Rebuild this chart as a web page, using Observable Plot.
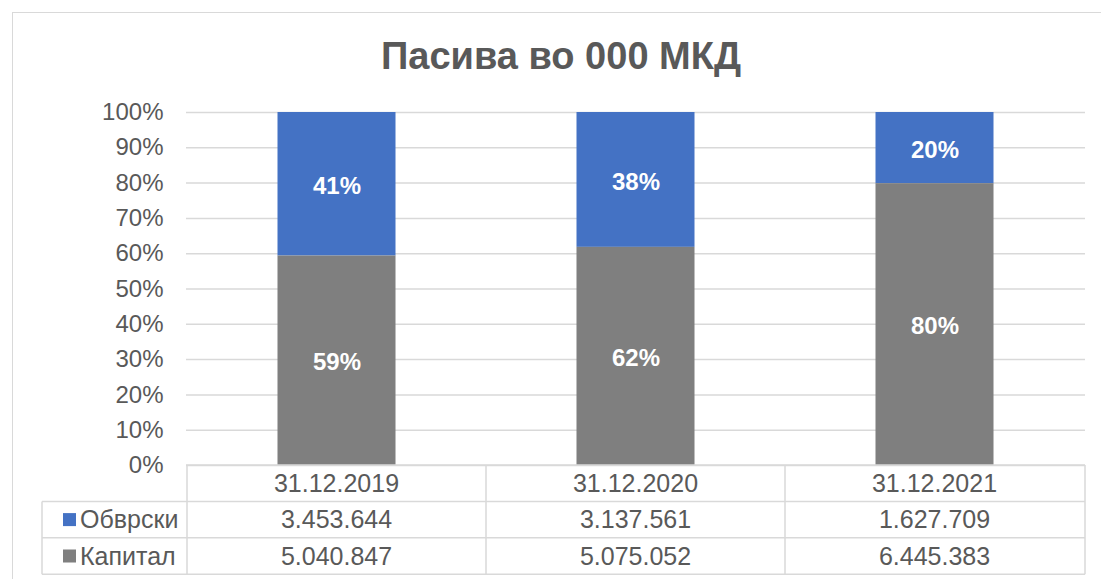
<!DOCTYPE html>
<html>
<head>
<meta charset="utf-8">
<script src="https://cdn.jsdelivr.net/npm/d3@7"></script>
<script src="https://cdn.jsdelivr.net/npm/@observablehq/plot@0.6"></script>
<style>
  html, body { margin: 0; padding: 0; background: #fff; }
  body { width: 1101px; height: 579px; overflow: hidden; position: relative; font-family: "Liberation Sans", Arial, sans-serif; }
  #frame { position: absolute; left: 12px; top: 12px; width: 1100px; height: 600px; border-left: 1px solid #d9d9d9; border-top: 1px solid #d9d9d9; box-sizing: border-box; }
  #title { position: absolute; left: 12px; width: 1098px; top: 37px; text-align: center; font: bold 38px/1 "Liberation Sans", Arial, sans-serif; color: #595959; }
  #chart { position: absolute; left: 0; top: 0; }
</style>
</head>
<body>
<div id="frame"></div>
<div id="title">Пасива во 000 МКД</div>
<div id="chart"></div>
<script>
// ---- data ----
const categories = ["31.12.2019", "31.12.2020", "31.12.2021"];
const seriesNames = ["Обврски", "Капитал"];
const obvrski = [3453644, 3137561, 1627709];
const kapital = [5040847, 5075052, 6445383];
const yTicks = [0, 0.1, 0.2, 0.3, 0.4, 0.5, 0.6, 0.7, 0.8, 0.9, 1];
const seriesColors = ["#4472C4", "#7F7F7F"];

const seriesValues = {"Обврски": obvrski, "Капитал": kapital};
const totals = categories.map((c, i) => obvrski[i] + kapital[i]);
const rows = [];
seriesNames.forEach(s => categories.forEach((c, i) => {
  rows.push({date: c, series: s, value: seriesValues[s][i], share: seriesValues[s][i] / totals[i]});
}));

const pct = d3.format(".0%");
const mk = d3.formatLocale({decimal: ",", thousands: ".", grouping: [3], currency: ["", ""]});
const num = mk.format(",d");

const textColor = "#595959";
const lineColor = "#d9d9d9";
const stackOrder = ["Капитал", "Обврски"];
const tableFont = 25;

// data table drawn with the plot's own x scale
function dataTable(index, scales, values, dimensions) {
  const x = scales.x;
  const bw = x.bandwidth ? x.bandwidth() : (x(categories[1]) - x(categories[0]));
  const {width, height, marginLeft, marginRight, marginBottom} = dimensions;
  const top = height - marginBottom;
  const rowH = 36.4;
  const left = 42;
  const right = width - marginRight;
  const g = d3.create("svg:g").attr("font-family", "'Liberation Sans', Arial, sans-serif");
  const lines = g.append("g").attr("stroke", lineColor).attr("stroke-width", 1.5);
  lines.append("line").attr("x1", marginLeft).attr("x2", right).attr("y1", top).attr("y2", top);
  for (let r = 1; r <= 3; r++) {
    const yy = top + r * rowH;
    lines.append("line").attr("x1", left).attr("x2", right).attr("y1", yy).attr("y2", yy);
  }
  lines.append("line").attr("x1", left).attr("x2", left).attr("y1", top + rowH).attr("y2", top + 3 * rowH);
  categories.forEach(c => {
    lines.append("line").attr("x1", x(c)).attr("x2", x(c)).attr("y1", top).attr("y2", top + 3 * rowH);
  });
  lines.append("line").attr("x1", right).attr("x2", right).attr("y1", top).attr("y2", top + 3 * rowH);
  categories.forEach(c => {
    g.append("text").attr("x", x(c) + bw / 2).attr("y", top + rowH / 2).attr("dy", "0.35em")
      .attr("text-anchor", "middle").attr("font-size", tableFont).attr("fill", textColor).text(c);
  });
  seriesNames.forEach((s, r) => {
    const cy = top + (r + 1.5) * rowH;
    g.append("rect").attr("x", 63).attr("y", cy - 6.5).attr("width", 13).attr("height", 13).attr("fill", seriesColors[r]);
    g.append("text").attr("x", 80).attr("y", cy).attr("dy", "0.35em").attr("text-anchor", "start")
      .attr("font-size", tableFont).attr("fill", textColor).text(s);
    categories.forEach((c, i) => {
      g.append("text").attr("x", x(c) + bw / 2).attr("y", cy).attr("dy", "0.35em")
        .attr("text-anchor", "middle").attr("font-size", tableFont).attr("fill", textColor).text(num(seriesValues[s][i]));
    });
  });
  return g.node();
}

const chart = Plot.plot({
  width: 1101,
  height: 579,
  marginTop: 112,
  marginBottom: 114,
  marginLeft: 186,
  marginRight: 16,
  style: {background: "transparent", fontFamily: "'Liberation Sans', Arial, sans-serif", color: textColor, overflow: "visible"},
  x: {domain: categories, padding: 0, axis: null},
  y: {domain: [0, 1], axis: null, label: null},
  color: {domain: seriesNames, range: seriesColors},
  marks: [
    Plot.gridY(yTicks, {stroke: lineColor, strokeOpacity: 1, strokeWidth: 1.5}),
    Plot.axisY(yTicks, {tickSize: 0, tickPadding: 23, tickFormat: pct, fontSize: 24, fill: textColor, label: null}),
    Plot.barY(rows, Plot.stackY({x: "date", y: "value", z: "series", fill: "series", offset: "normalize", order: stackOrder, insetLeft: 90.5, insetRight: 90.5})),
    Plot.text(rows, Plot.stackY({x: "date", y: "value", z: "series", offset: "normalize", order: stackOrder, text: d => pct(d.share), fill: "white", fontSize: 24, fontWeight: "bold", dy: 2})),
    dataTable
  ]
});
document.getElementById("chart").appendChild(chart);
</script>
</body>
</html>
